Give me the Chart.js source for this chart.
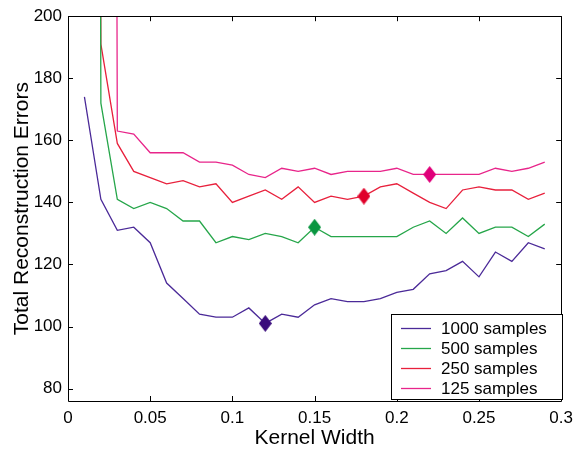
<!DOCTYPE html>
<html>
<head>
<meta charset="utf-8">
<script src="https://cdn.jsdelivr.net/npm/chart.js@4/dist/chart.umd.min.js"></script>
<style>
html,body{margin:0;padding:0;background:#fff;}
#wrap{width:580px;height:451px;position:relative;}
</style>
</head>
<body>
<div id="wrap"><canvas id="c" width="580" height="451"></canvas></div>
<script>
// Kernel widths (x)
const kernelWidths = [0.01,0.02,0.03,0.04,0.05,0.06,0.07,0.08,0.09,0.10,0.11,0.12,0.13,0.14,0.15,0.16,0.17,0.18,0.19,0.20,0.21,0.22,0.23,0.24,0.25,0.26,0.27,0.28,0.29];
// Series values (off-chart values at small widths are estimated as very large)
const errors1000 = [174,141,131,132,127,114,109,104,103,103,106,101,104,103,107,109,108,108,109,111,112,117,118,121,116,124,121,127,125];
const errors500  = [2000,172,141,138,140,138,134,134,127,129,128,130,129,127,132,129,129,129,129,129,132,134,130,135,130,132,132,129,133];
const errors250  = [2000,191,159,150,148,146,147,145,146,140,142,144,141,145,140,142,141,142,145,146,143,140,138,144,145,144,144,141,143];
const errors125  = [2000,2000,163,162,156,156,156,153,153,152,149,148,151,150,151,149,150,150,150,151,149,149,149,149,149,151,150,151,153];
const seriesLabels = ['1000 samples','500 samples','250 samples','125 samples'];
const bestWidth = [0.12,0.15,0.18,0.22];
const xTicks = [0,0.05,0.1,0.15,0.2,0.25,0.3];
const yTicks = [80,100,120,140,160,180,200];

const lineColors = ['#4b2a98','#26a64a','#e8203c','#e8258a'];
const markColors = ['#3a0c7c','#0a9640','#e0002a','#e0007a'];
const allSeries = [errors1000, errors500, errors250, errors125];

function diamond(color) {
  const w = 13, h = 17;
  const c = document.createElement('canvas');
  c.width = w; c.height = h;
  const g = c.getContext('2d');
  g.fillStyle = color;
  g.beginPath();
  g.moveTo(w / 2, 0); g.lineTo(w, h / 2); g.lineTo(w / 2, h); g.lineTo(0, h / 2);
  g.closePath(); g.fill();
  return c;
}
const markers = markColors.map(diamond);

const datasets = allSeries.map((vals, i) => ({
  label: seriesLabels[i],
  data: kernelWidths.map((x, j) => ({x: x, y: vals[j]})),
  borderColor: lineColors[i],
  backgroundColor: markColors[i],
  borderWidth: 1.3,
  pointStyle: markers[i],
  pointRadius: ctx => (Math.abs(kernelWidths[ctx.dataIndex] - bestWidth[i]) < 1e-9 ? 7 : 0),
  pointHoverRadius: 0,
  pointBorderWidth: 0,
  pointBackgroundColor: markColors[i],
  tension: 0,
  fill: false
}));

const FONT = '"Liberation Sans", Arial, Helvetica, sans-serif';

const framePlugin = {
  id: 'frame',
  afterDatasetsDraw(chart) {
    const {ctx, chartArea: a, scales} = chart;
    ctx.save();
    ctx.strokeStyle = '#000';
    ctx.lineWidth = 1;
    ctx.beginPath();
    ctx.rect(Math.round(a.left)+0.5, Math.round(a.top)+0.5, Math.round(a.right-a.left), Math.round(a.bottom-a.top));
    ctx.stroke();
    const L = 5;
    ctx.beginPath();
    xTicks.forEach(v => {
      const px = Math.round(scales.x.getPixelForValue(v)) + 0.5;
      ctx.moveTo(px, a.bottom); ctx.lineTo(px, a.bottom - L);
      ctx.moveTo(px, a.top); ctx.lineTo(px, a.top + L);
    });
    yTicks.forEach(v => {
      const py = Math.round(scales.y.getPixelForValue(v)) + 0.5;
      ctx.moveTo(a.left, py); ctx.lineTo(a.left + L, py);
      ctx.moveTo(a.right, py); ctx.lineTo(a.right - L, py);
    });
    ctx.stroke();

    // legend box
    const bx = 391.5, by = 314.5, bw = 171, bh = 85;
    ctx.fillStyle = '#fff';
    ctx.fillRect(bx, by, bw, bh);
    ctx.strokeRect(bx, by, bw, bh);
    ctx.font = '17px ' + FONT;
    ctx.textBaseline = 'middle';
    ctx.textAlign = 'left';
    chart.data.datasets.forEach((ds, i) => {
      const y = 328 + i * 20;
      ctx.strokeStyle = ds.borderColor;
      ctx.lineWidth = 1.3;
      ctx.beginPath();
      ctx.moveTo(401, y + 0.5); ctx.lineTo(431, y + 0.5);
      ctx.stroke();
      ctx.fillStyle = '#000';
      ctx.fillText(ds.label, 441, y + 1);
    });
    ctx.restore();
  }
};

new Chart(document.getElementById('c'), {
  type: 'line',
  data: { datasets: datasets },
  options: {
    responsive: false,
    animation: false,
    devicePixelRatio: 1,
    layout: { padding: { left: 0, right: 12, top: 12, bottom: 0 } },
    plugins: { legend: { display: false }, tooltip: { enabled: false } },
    scales: {
      x: {
        type: 'linear',
        min: 0, max: 0.3,
        grid: { display: false, drawTicks: false },
        border: { display: false },
        afterFit: s => { s.height = 50; },
        afterBuildTicks: s => { s.ticks = xTicks.map(v => ({value: v})); },
        ticks: {
          padding: 7,
          color: '#000',
          font: { family: FONT, size: 17 },
          maxRotation: 0,
          autoSkip: false,
          callback: v => String(Number(v.toFixed(2)))
        },
        title: {
          display: true, text: 'Kernel Width', color: '#000',
          font: { family: FONT, size: 21 },
          padding: { top: 0, bottom: 0 }
        }
      },
      y: {
        type: 'linear',
        min: 76, max: 200,
        grid: { display: false, drawTicks: false },
        border: { display: false },
        afterFit: s => { s.width = 68; },
        afterBuildTicks: s => { s.ticks = yTicks.map(v => ({value: v})); },
        ticks: {
          padding: 6,
          color: '#000',
          font: { family: FONT, size: 17 },
          autoSkip: false
        },
        title: {
          display: true, text: 'Total Reconstruction Errors', color: '#000',
          font: { family: FONT, size: 21 },
          padding: { top: 10, bottom: 0 }
        }
      }
    }
  },
  plugins: [framePlugin]
});
</script>
</body>
</html>
